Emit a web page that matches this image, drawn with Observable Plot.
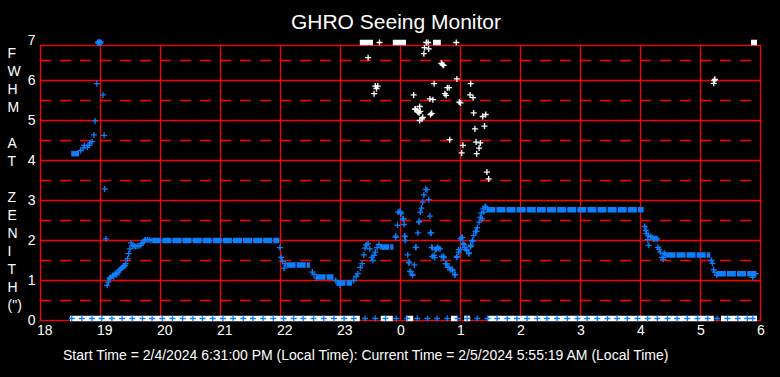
<!DOCTYPE html>
<html><head><meta charset="utf-8">
<script src="https://cdn.jsdelivr.net/npm/d3@7"></script>
<script src="https://cdn.jsdelivr.net/npm/@observablehq/plot@0.6"></script>
<style>
html,body{margin:0;padding:0;background:#000;}
#wrap{position:relative;width:780px;height:377px;overflow:hidden;background:#000;font-family:"Liberation Sans",Arial,sans-serif;color:#fff;}
#chart{position:absolute;left:0;top:0;}
#title{position:absolute;left:0;width:792px;top:10.5px;text-align:center;font-size:21px;line-height:21px;white-space:nowrap;}
#ylabel{position:absolute;left:7.5px;top:44px;font-size:14px;line-height:18px;}
#footer{position:absolute;left:63px;top:348px;font-size:14px;line-height:14px;white-space:nowrap;}
</style></head><body>
<div id="wrap">
  <div id="chart"></div>
  <div id="title">GHRO Seeing Monitor</div>
  <div id="ylabel">F<br>W<br>H<br>M<br>&nbsp;<br>A<br>T<br>&nbsp;<br>Z<br>E<br>N<br>I<br>T<br>H<br>(")</div>
  <div id="footer">Start Time = 2/4/2024 6:31:00 PM (Local Time): Current Time = 2/5/2024 5:55:19 AM (Local Time)</div>
</div>
<script>
// ---- data (hours after midnight of 2/4 ; 24 = midnight) ----
const xTicks = [18,19,20,21,22,23,24,25,26,27,28,29,30];
const xTickLabels = ["18","19","20","21","22","23","0","1","2","3","4","5","6"];
const yTicks = [0,1,2,3,4,5,6,7];
const yTickLabels = ["0","1","2","3","4","5","6","7"];
const ySolid = [1,2,3,4,5,6];
const yDashed = [0.5,1.5,2.5,3.5,4.5,5.5,6.5];
const xGrid = [19,20,21,22,23,24,25,26,27,28,29];

// blue: smoothed seeing — dense constant stretches [start, end, value]
const blueRuns = [
  [18.52,18.65,4.17],[19.87,21.99,2.0],[22.11,22.5,1.39],[22.61,22.89,1.09],
  [22.94,23.2,0.94],[23.67,23.89,1.84],[25.44,28.06,2.77],[28.44,29.17,1.64],[29.28,29.92,1.17]
];
// blue: individual samples [hour, value]
const bluePoints = [
  [18.67,4.25],[18.71,4.31],[18.73,4.38],[18.78,4.33],[18.81,4.38],[18.82,4.44],[18.86,4.47],[18.89,4.64],
  [18.91,4.99],[18.94,5.92],[19.04,5.64],[19.06,4.63],[19.07,3.29],[19.09,2.04],
  [19.11,0.88],[19.13,0.96],[19.15,1.05],[19.17,1.08],[19.2,1.12],[19.22,1.1],[19.24,1.18],[19.27,1.15],
  [19.29,1.2],[19.31,1.25],[19.33,1.28],[19.35,1.31],[19.37,1.33],[19.39,1.35],[19.41,1.38],[19.42,1.42],
  [19.45,1.54],[19.47,1.67],[19.49,1.79],[19.51,1.94],[19.53,1.87],[19.56,1.86],[19.58,1.85],[19.61,1.86],
  [19.64,1.87],[19.67,1.88],[19.69,1.93],[19.71,1.96],[19.73,2.0],[19.75,2.02],[19.78,2.01],[19.81,2.02],[19.84,2.0],
  [21.99,1.82],[22.01,1.58],[22.03,1.48],[22.06,1.31],[22.08,1.42],
  [22.53,1.21],[22.56,1.15],[22.6,1.06],[22.92,1.0],[22.99,0.89],
  [23.22,1.0],[23.26,1.1],[23.29,1.17],[23.33,1.32],[23.36,1.42],[23.39,1.64],[23.41,1.81],[23.43,1.89],
  [23.46,1.92],[23.49,1.79],[23.52,1.58],[23.54,1.5],[23.56,1.63],[23.58,1.71],[23.61,1.82],[23.64,1.9],
  [23.92,2.11],[23.92,2.08],[23.95,2.38],[23.96,2.71],[23.99,2.73],[24.0,2.69],[24.01,2.67],[24.04,2.54],[24.05,2.54],
  [24.06,2.4],[24.07,2.1],[24.07,2.11],[24.08,2.0],[24.12,1.64],[24.14,1.44],[24.14,1.46],[24.16,1.23],
  [24.17,1.22],[24.2,1.13],[24.2,1.15],[24.23,1.39],[24.26,1.83],[24.25,1.83],[24.29,2.19],[24.31,2.48],
  [24.31,2.46],[24.33,2.71],[24.35,2.81],[24.37,2.96],[24.39,3.14],[24.42,3.28],[24.44,3.27],[24.47,3.02],
  [24.49,2.61],[24.5,2.19],[24.51,2.19],[24.52,1.83],[24.53,1.82],[24.53,1.6],[24.56,1.63],[24.57,1.57],
  [24.58,1.77],[24.6,1.79],[24.62,1.83],[24.64,1.8],[24.66,1.79],[24.69,1.6],[24.72,1.57],[24.72,1.6],
  [24.75,1.42],[24.77,1.42],[24.79,1.33],[24.81,1.33],[24.83,1.27],[24.86,1.28],[24.87,1.25],[24.91,1.14],
  [24.91,1.15],[24.94,1.58],[24.94,1.6],[24.97,1.71],[24.97,1.77],[25.0,2.04],[25.0,1.78],[25.02,2.07],
  [25.03,2.08],[25.04,1.92],[25.06,1.9],[25.07,1.82],[25.1,1.78],[25.1,1.75],[25.14,1.69],[25.14,1.67],
  [25.17,1.88],[25.17,1.85],[25.2,2.0],[25.2,1.98],[25.22,2.13],[25.25,2.23],[25.27,2.23],[25.28,2.32],
  [25.31,2.46],[25.33,2.58],[25.36,2.54],[25.35,2.69],[25.39,2.71],[25.38,2.79],[25.42,2.83],[25.41,2.85],
  [28.07,2.35],[28.09,2.25],[28.1,2.17],[28.12,2.02],[28.13,2.13],[28.14,1.88],[28.17,2.1],[28.2,2.07],
  [28.22,2.04],[28.24,2.05],[28.26,2.05],[28.28,2.04],[28.29,1.83],[28.31,1.78],[28.33,1.71],[28.36,1.58],
  [28.38,1.53],[28.4,1.68],[28.42,1.64],
  [29.18,1.5],[29.2,1.43],[29.22,1.27],[29.24,1.21],[29.27,1.13],[29.87,1.08],[29.92,1.17]
];
// blue samples clamped at the top (7)
const blueTopTimes = [18.96,18.98,19.0];
// blue samples at zero
const blueZeroTimes = [18.52,18.69,18.86,19.02,19.19,19.36,19.53,19.70,19.86,20.03,20.20,20.37,20.54,20.70,20.87,
  21.04,21.21,21.38,21.54,21.71,21.88,22.05,22.22,22.38,22.55,22.72,22.89,23.06,23.22,23.41,23.58,23.75,23.93,
  24.11,24.28,24.45,24.61,24.78,24.95,25.11,25.28,25.45,25.61,25.78,25.94,26.11,26.28,26.44,26.61,26.78,26.95,
  27.11,27.28,27.45,27.61,27.78,27.95,28.12,28.28,28.45,28.61,28.78,28.95,29.12,29.28,29.45,29.62,29.78,29.87];

// white: raw samples
const whiteZeroRuns = [[18.5,23.33,0],[23.68,23.88,0],[24.1,24.22,0],[24.85,24.95,0],[25.07,25.17,0],[25.47,29.23,0],[29.35,29.95,0]];
const whiteTopRuns = [[23.33,23.55,7],[23.88,24.1,7],[24.55,24.68,7],[29.85,29.95,7]];
const whiteTopTimes = [23.65,24.43,24.46,24.93];
const whitePoints = [
  [23.46,6.57],[23.56,5.67],[23.58,5.86],[23.6,5.8],[23.62,5.86],
  [24.22,5.64],[24.24,5.28],[24.25,5.29],[24.28,5.25],[24.29,5.21],[24.31,5.19],[24.32,5.35],[24.32,5.0],
  [24.33,5.23],[24.36,5.04],[24.37,5.08],[24.39,6.67],[24.4,6.82],[24.47,6.79],[24.5,5.15],[24.49,5.54],
  [24.52,5.18],[24.54,5.52],[24.56,5.92],[24.68,6.43],[24.7,6.4],[24.72,6.38],[24.74,5.67],[24.76,5.63],
  [24.78,5.82],[24.81,5.82],[24.82,4.52],[24.94,6.04],[24.98,5.46],[25.0,5.44],[25.02,4.19],[25.04,4.38],
  [25.16,5.64],[25.17,5.92],[25.21,5.57],[25.22,5.19],[25.24,4.79],[25.26,4.46],[25.27,4.17],[25.31,4.31],
  [25.33,4.44],[25.37,5.1],[25.4,4.86],[25.42,5.15],[25.44,3.71],[25.47,3.54],
  [29.24,6.03],[29.23,6.0],[29.22,5.93]
];

// ---- styles ----
const RED = "#ff0000", BLUE = "#0a80ff", WHITE = "#ffffff";
const plusSymbol = {draw(ctx, size) {
  const r = Math.sqrt(size / Math.PI);
  ctx.moveTo(-r, 0); ctx.lineTo(r, 0); ctx.moveTo(0, -r); ctx.lineTo(0, r);
}};
const dotOpts = (color, extra = {}) => ({x: d => d[0], y: d => d[1], symbol: plusSymbol, r: 3, stroke: color, strokeWidth: 1.3, fill: "none", ...extra});
const runOpts = (color, extra = {}) => ({y: d => d[2], x1: d => d[0], x2: d => d[1], stroke: color, strokeWidth: 5.5, ...extra});

const chart = Plot.plot({
  width: 780, height: 377,
  marginLeft: 40, marginRight: 20, marginTop: 45, marginBottom: 57,
  style: {background: "#000", color: "#fff", fontSize: "14px", fontFamily: "'Liberation Sans', Arial, sans-serif", overflow: "visible"},
  x: {domain: [18, 30], axis: null},
  y: {domain: [0, 7], range: [320, 40], ticks: yTicks, tickFormat: d => yTickLabels[yTicks.indexOf(d)], tickSize: 0, tickPadding: 5, label: null},
  marks: [
    Plot.ruleY(ySolid, {stroke: RED, strokeWidth: 1.3}),
    Plot.ruleY(yDashed, {stroke: RED, strokeWidth: 1.3, strokeDasharray: "11,9"}),
    Plot.ruleX(xGrid, {stroke: RED, strokeWidth: 1.3}),
    Plot.frame({stroke: RED, strokeWidth: 1.3}),
    // x tick labels
    Plot.text(xTicks, {x: d => d, text: (d, i) => xTickLabels[i], frameAnchor: "bottom", lineAnchor: "top",
      textAnchor: "start", dx: -3.5, dy: 5, fill: WHITE, fontSize: 14}),
    // white series
    Plot.ruleY(whiteZeroRuns, runOpts(WHITE, {dy: -2})),
    Plot.ruleY(whiteTopRuns, runOpts(WHITE, {dy: 2})),
    Plot.dot(whiteTopTimes.map(t => [t, 7]), dotOpts(WHITE, {dy: 2})),
    Plot.dot(whitePoints, dotOpts(WHITE)),
    // blue series
    Plot.ruleY(blueRuns, runOpts(BLUE, {strokeDasharray: "9,1.1"})),
    Plot.dot(bluePoints, dotOpts(BLUE)),
    Plot.dot(blueTopTimes.map(t => [t, 7]), dotOpts(BLUE, {dy: 2, strokeWidth: 2.5})),
    Plot.dot(blueZeroTimes.map(t => [t, 0]), dotOpts(BLUE, {dy: -2}))
  ]
});
document.getElementById("chart").appendChild(chart);
</script>
</body></html>
